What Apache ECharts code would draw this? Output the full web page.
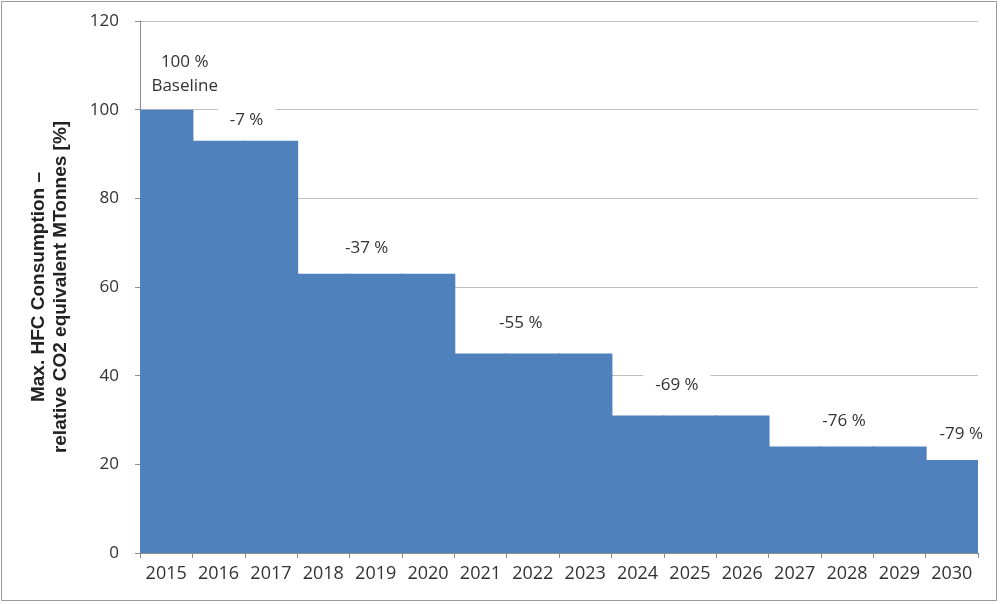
<!DOCTYPE html>
<html><head><meta charset="utf-8">
<script src="https://cdn.jsdelivr.net/npm/echarts@6/dist/echarts.min.js"></script>
<style>html,body{margin:0;padding:0;background:#fff}#c{width:1000px;height:604px}</style>
</head><body><div id="c"></div>
<script>
const years = ['2015','2016','2017','2018','2019','2020','2021','2022','2023','2024','2025','2026','2027','2028','2029','2030'];
const values = [100,93,93,63,63,63,45,45,45,31,31,31,24,24,24,21];
const stepLabels = {0:'100 %\nBaseline',1:'-7 %',4:'-37 %',7:'-55 %',10:'-69 %',13:'-76 %',15:'-79 %'};
const labelOffsets = {0:[18,-5],1:[28,-4],4:[-9,-9],7:[-12,-13],10:[-13,-13],13:[-3,-8],15:[10,-9]};
const yTicks = [0,20,40,60,80,100,120];

const chart = echarts.init(document.getElementById('c'));
const data = values.map((v,i)=>{
  const d = {value:v};
  if (stepLabels[i]) {
    const multi = stepLabels[i].indexOf('\n') >= 0;
    d.label = {show:true, position:'top', distance:5, formatter: stepLabels[i], offset: labelOffsets[i],
      backgroundColor:'#fff', padding: multi ? [2,4] : [2,12], color:'#333', fontSize:17,
      lineHeight: multi ? 24 : 20, fontFamily:'Open Sans'};
  }
  return d;
});
chart.setOption({
  animation:false,
  graphic:[{type:'rect', shape:{x:1.5,y:1.5,width:995,height:599}, style:{fill:null, stroke:'#9a9a9a', lineWidth:1}, silent:true}],
  grid:{left:140,right:22,top:21,bottom:51},
  xAxis:{type:'category', data:years,
    axisLine:{lineStyle:{color:'#8c8c8c'}},
    axisTick:{show:true, length:5, lineStyle:{color:'#8c8c8c'}},
    axisLabel:{color:'#333', fontSize:18, fontFamily:'Open Sans', margin:12, interval:0}},
  yAxis:{type:'value', min:0, max:120, interval:20,
    name:'Max. HFC Consumption –\nrelative CO2 equivalent MTonnes [%]',
    nameLocation:'middle', nameGap:68, nameRotate:90,
    nameTextStyle:{fontSize:19, fontWeight:'bold', color:'#222', fontFamily:'Liberation Sans', lineHeight:22, padding:[0,0,0,0]},
    axisLine:{show:true, lineStyle:{color:'#8c8c8c'}},
    axisTick:{show:true, length:5, lineStyle:{color:'#8c8c8c'}},
    axisLabel:{color:'#333', fontSize:17, fontFamily:'Open Sans', margin:21},
    splitLine:{show:true, lineStyle:{color:'#bfbfbf', width:1}}},
  series:[{type:'bar', data:data, barCategoryGap:'0%', barWidth:'104%',
    itemStyle:{color:'#4f81bd'}, z:2}]
});
</script></body></html>
